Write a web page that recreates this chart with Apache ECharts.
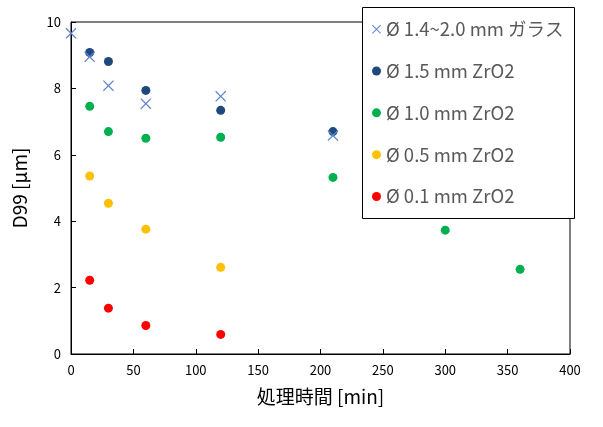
<!DOCTYPE html>
<html><head><meta charset="utf-8">
<script src="https://cdn.jsdelivr.net/npm/echarts@6/dist/echarts.min.js"></script>
<style>html,body{margin:0;padding:0;background:#fff}#c{width:603px;height:427px}</style>
</head><body><div id="c"></div>
<script>
const seriesNames = ['Ø 1.4~2.0 mm ガラス','Ø 1.5 mm ZrO2','Ø 1.0 mm ZrO2','Ø 0.5 mm ZrO2','Ø 0.1 mm ZrO2'];
const glassX = [0, 15, 30, 60, 120, 210];
const glassY = [9.66, 8.95, 8.08, 7.54, 7.76, 6.58];
const zr15X = [15, 30, 60, 120, 210];
const zr15Y = [9.08, 8.81, 7.94, 7.34, 6.70];
const zr10X = [15, 30, 60, 120, 210, 300, 360];
const zr10Y = [7.46, 6.70, 6.50, 6.53, 5.32, 3.73, 2.55];
const zr05X = [15, 30, 60, 120];
const zr05Y = [5.36, 4.54, 3.76, 2.61];
const zr01X = [15, 30, 60, 120];
const zr01Y = [2.22, 1.38, 0.86, 0.59];
const xTicks = [0, 50, 100, 150, 200, 250, 300, 350, 400];
const yTicks = [0, 2, 4, 6, 8, 10];
const colors = ['#5B86CF', '#1F497D', '#00B050', '#FFC000', '#FF0000'];

const xs = [glassX, zr15X, zr10X, zr05X, zr01X];
const ys = [glassY, zr15Y, zr10Y, zr05Y, zr01Y];
const crossPath = 'path://M0,0.8L0.8,0L5,4.2L9.2,0L10,0.8L5.8,5L10,9.2L9.2,10L5,5.8L0.8,10L0,9.2L4.2,5Z';
const font = '"Noto Sans CJK JP", "Noto Sans", sans-serif';

const chart = echarts.init(document.getElementById('c'), null, {renderer: 'canvas'});
chart.setOption({
  animation: false,
  backgroundColor: '#fff',
  grid: {left: 71, right: 33, top: 22, bottom: 73, show: true, borderColor: '#000', borderWidth: 1},
  xAxis: {
    type: 'value', min: xTicks[0], max: xTicks[xTicks.length - 1], interval: 50,
    name: '処理時間 [min]', nameLocation: 'middle', nameGap: 33,
    nameTextStyle: {fontSize: 19, color: '#000', fontFamily: font},
    axisLine: {show: true, lineStyle: {color: '#000', width: 1}},
    axisTick: {show: true, inside: true, length: 5, lineStyle: {color: '#000'}},
    axisLabel: {fontSize: 13, color: '#000', fontFamily: font, margin: 10},
    splitLine: {show: false}
  },
  yAxis: {
    type: 'value', min: yTicks[0], max: yTicks[yTicks.length - 1], interval: 2,
    name: 'D99 [µm]', nameLocation: 'middle', nameGap: 42,
    nameTextStyle: {fontSize: 19, color: '#000', fontFamily: font},
    axisLine: {show: true, lineStyle: {color: '#000', width: 1}},
    axisTick: {show: true, inside: true, length: 5, lineStyle: {color: '#000'}},
    axisLabel: {fontSize: 13, color: '#000', fontFamily: font, margin: 10},
    splitLine: {show: false}
  },
  graphic: [{
    type: 'rect', left: 362, top: 7, z: 5,
    shape: {width: 212, height: 211},
    style: {fill: '#fff', stroke: '#000', lineWidth: 1}
  }],
  legend: {
    orient: 'vertical', left: 367, top: 15, z: 10,
    itemGap: 23.3, itemWidth: 9, itemHeight: 9,
    textStyle: {fontSize: 18.5, color: '#595959', fontFamily: font, padding: [0, 0, 0, 0]},
    data: seriesNames.map((n, i) => ({name: n, icon: i === 0 ? crossPath : 'circle'}))
  },
  series: seriesNames.map((n, i) => ({
    name: n, type: 'scatter',
    symbol: i === 0 ? crossPath : 'circle',
    symbolSize: i === 0 ? 11 : 9,
    itemStyle: {color: colors[i], opacity: 1},
    z: i === 0 ? 3 : 2,
    data: xs[i].map((x, k) => [x, ys[i][k]])
  }))
});
</script></body></html>
